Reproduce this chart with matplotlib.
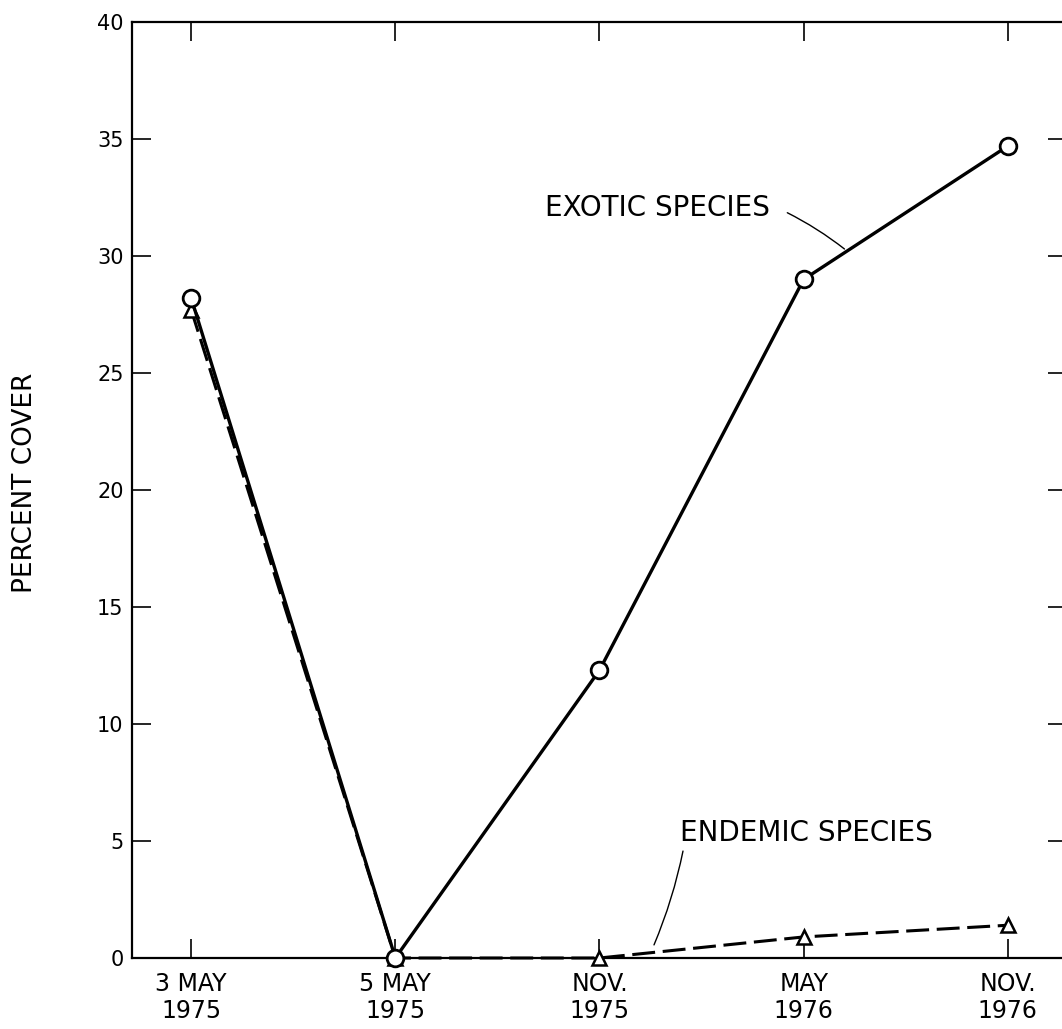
import matplotlib.pyplot as plt

# data
dates = ['3 MAY\n1975', '5 MAY\n1975', 'NOV.\n1975', 'MAY\n1976', 'NOV.\n1976']
exotic = [28.2, 0.0, 12.3, 29.0, 34.7]
endemic = [27.7, 0.0, 0.0, 0.9, 1.4]
yticks = [0, 5, 10, 15, 20, 25, 30, 35, 40]

plt.rcParams['font.family'] = 'DejaVu Sans'

fig = plt.figure(figsize=(10.62, 10.29), dpi=100)
ax = fig.add_axes([0.1243, 0.069, 0.8804, 0.9096])

x = list(range(len(dates)))

ax.plot(x, endemic, color='black', lw=2.2, dashes=(7.5, 2.5),
        marker='^', ms=9.5, mfc='white', mec='black', mew=1.8, clip_on=False, zorder=3)
ax.plot(x, exotic, color='black', lw=2.4,
        marker='o', ms=12, mfc='white', mec='black', mew=2.0, clip_on=False, zorder=4)

ax.set_xlim(-0.29, 4.29)
ax.set_ylim(0, 40)
ax.set_xticks(x)
ax.set_xticklabels(dates, fontsize=17, linespacing=1.15)
ax.set_yticks(yticks)
ax.set_yticklabels([str(v) for v in yticks], fontsize=15)

ax.tick_params(axis='both', direction='in', length=14, width=1.2, color='black')
ax.tick_params(axis='x', top=True, pad=10)
ax.tick_params(axis='y', right=True, pad=6)
for s in ax.spines.values():
    s.set_linewidth(1.6)

fig.text(25 / 1062, 1 - 483 / 1029, 'PERCENT COVER', rotation=90,
         ha='center', va='center', fontsize=19)

# labels with leader lines
ax.text(1.733, 32.05, 'EXOTIC SPECIES', fontsize=20, ha='left', va='center')
ax.annotate('', xy=(3.20, 30.3), xytext=(2.92, 31.85),
            arrowprops=dict(arrowstyle='-', lw=1.0, color='black',
                            connectionstyle='arc3,rad=-0.05', shrinkA=0, shrinkB=0))

ax.text(2.394, 5.34, 'ENDEMIC SPECIES', fontsize=20, ha='left', va='center')
ax.annotate('', xy=(2.267, 0.56), xytext=(2.409, 4.57),
            arrowprops=dict(arrowstyle='-', lw=1.0, color='black',
                            connectionstyle='arc3,rad=-0.05', shrinkA=0, shrinkB=0))

fig.savefig('out.png', dpi=100)
